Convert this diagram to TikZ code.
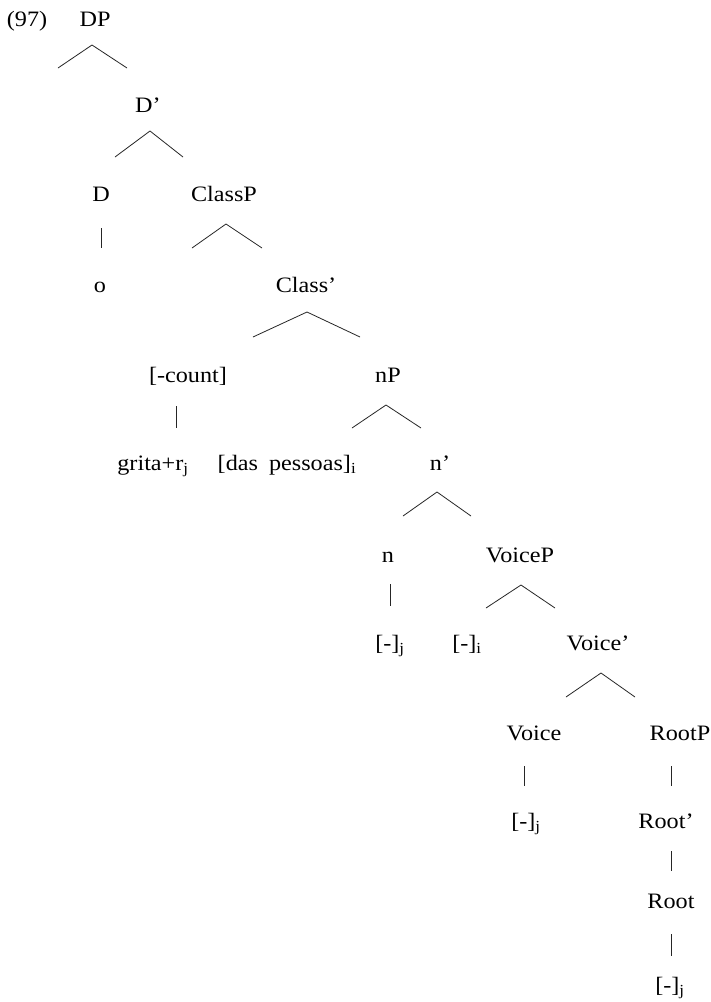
\documentclass[tikz,border=0pt]{standalone}
\usepackage{fontspec}
\setmainfont{Liberation Serif}[FakeStretch=1.1]
\begin{document}
\begin{tikzpicture}[x=1pt,y=-1pt,
  lbl/.style={anchor=base, inner sep=0pt, font=\fontsize{22}{26}\selectfont},
  br/.style={line width=0.8pt, draw=black!85}]
\useasboundingbox[fill=white] (0,0) rectangle (711,1002);
% labels
\node[lbl] (ex) at (27,26) {(97)};
\node[lbl] (DP) at (95,26) {DP};
\node[lbl] (Dbar) at (148,112) {D’};
\node[lbl] (D) at (101,201) {D};
\node[lbl] (ClassP) at (224,201) {ClassP};
\node[lbl] (o) at (100,292) {o};
\node[lbl] (Classbar) at (306,292) {Class’};
\node[lbl] (count) at (188,382) {[-count]};
\node[lbl] (nP) at (388,382) {nP};
\node[lbl] (grita) at (153,470) {grita+r\textsubscript{j}};
\node[lbl] (das) at (287,470) {[das\hspace{0.5em}pessoas]\textsubscript{i}};
\node[lbl] (nbar) at (440,470) {n’};
\node[lbl] (n) at (388,562) {n};
\node[lbl] (VoiceP) at (520,562) {VoiceP};
\node[lbl] (nj) at (390,650) {[-]\textsubscript{j}};
\node[lbl] (vi) at (467,650) {[-]\textsubscript{i}};
\node[lbl] (Voicebar) at (598,650) {Voice’};
\node[lbl] (Voice) at (534,740) {Voice};
\node[lbl] (RootP) at (680,740) {RootP};
\node[lbl] (vj) at (526,828) {[-]\textsubscript{j}};
\node[lbl] (Rootbar) at (666,828) {Root’};
\node[lbl] (Root) at (671,908) {Root};
\node[lbl] (rj) at (670,992) {[-]\textsubscript{j}};
% branch points
\foreach \nm/\ax/\ay/\lx/\rx/\ey in {
  dp/92/45/58/127/68, db/150/131/115/183/157, cp/226/224/192/262/248,
  cb/307/312/253/360/337, np/386/405/352/421/428, nb/437/492/403/471/516,
  vp/521/585/486/555/608, vb/601/673/566/635/697}{
  \coordinate (\nm-a) at (\ax,\ay);
  \coordinate (\nm-l) at (\lx,\ey);
  \coordinate (\nm-r) at (\rx,\ey);
}
\foreach \nm in {dp,db,cp,cb,np,nb,vp,vb}{
  \draw[br] (\nm-l) -- (\nm-a) -- (\nm-r);
}
% unary lines
\foreach \nm/\x/\ya/\yb in {d/101/228/248, c/176/406/428, n/390/584/606,
  v/524/766/786, rp/671/766/786, rb/671/851/871, r/671/934/956}{
  \coordinate (\nm-t) at (\x,\ya);
  \coordinate (\nm-b) at (\x,\yb);
  \draw[br] (\nm-t) -- (\nm-b);
}
\end{tikzpicture}
\end{document}
